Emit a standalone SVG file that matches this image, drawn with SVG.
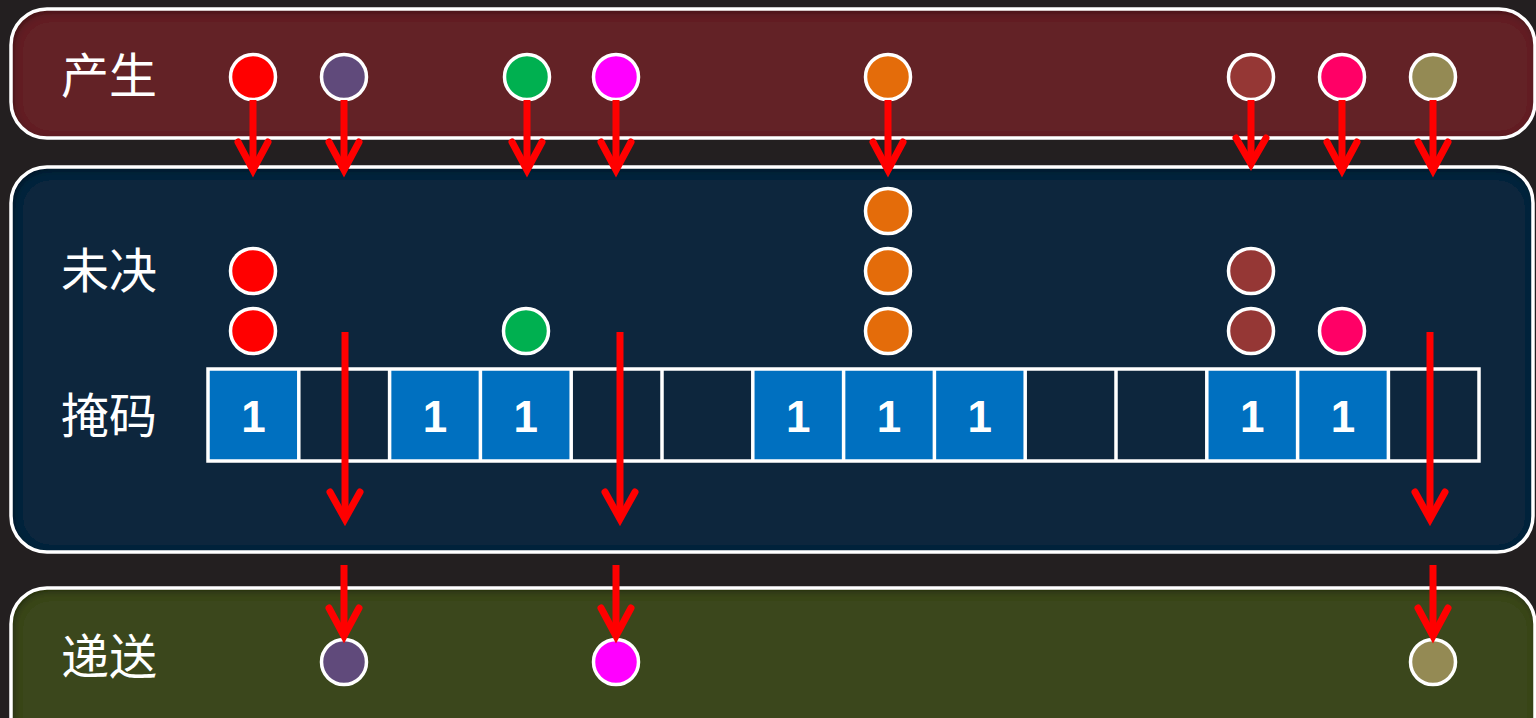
<svg xmlns="http://www.w3.org/2000/svg" width="1536" height="718" viewBox="0 0 1536 718">
<defs>
<style>
.lbl{font-family:"Noto Sans CJK SC","Noto Sans",sans-serif;font-size:48px;fill:#fff}
.one{font-family:"Liberation Sans",Arial,sans-serif;font-size:44px;font-weight:bold;fill:#fff;text-anchor:middle}
.dot{stroke:#fff;stroke-width:3.5}
.band{stroke:#fff;stroke-width:3.5;fill:none}
.arr{stroke:#f00;stroke-width:7;fill:none;stroke-linecap:round;stroke-linejoin:miter}
.shaft{stroke:#f00;stroke-width:7;fill:none}
.cell{fill:#0070C0}
.grid{stroke:#fff;stroke-width:3.5;fill:none}
</style>
<filter id="inner" x="-5%" y="-20%" width="110%" height="140%">
<feFlood flood-color="#000" flood-opacity="0.7"/>
<feComposite in2="SourceAlpha" operator="out"/>
<feGaussianBlur stdDeviation="4"/>
<feOffset dx="2" dy="3"/>
<feComposite in2="SourceAlpha" operator="in" result="sh"/>
<feMerge><feMergeNode in="SourceGraphic"/><feMergeNode in="sh"/></feMerge>
</filter>
</defs>
<rect width="1536" height="718" fill="#231F20"/>
<g id="band-produce">
<rect x="11" y="9" width="1524" height="129" rx="36" fill="#632425" filter="url(#inner)"/>
<rect x="11" y="9" width="1524" height="129" rx="36" class="band"/>
<text class="lbl" x="61" y="93">产生</text>
</g>
<g id="band-pending">
<rect x="11" y="167" width="1522" height="385" rx="36" fill="#11253E" filter="url(#inner)"/>
<rect x="11" y="167" width="1522" height="385" rx="36" class="band"/>
<text class="lbl" x="61" y="288">未决</text>
<text class="lbl" x="61" y="433">掩码</text>
</g>
<g id="band-deliver">
<rect x="11" y="588" width="1524" height="180" rx="36" fill="#3A471E" filter="url(#inner)"/>
<rect x="11" y="588" width="1524" height="180" rx="36" class="band"/>
<text class="lbl" x="61" y="674">递送</text>
</g>
<g id="mask">
<rect class="cell" x="208" y="369" width="90.8" height="92"/>
<rect class="cell" x="389.6" y="369" width="90.8" height="92"/>
<rect class="cell" x="480.4" y="369" width="90.8" height="92"/>
<rect class="cell" x="752.8" y="369" width="90.8" height="92"/>
<rect class="cell" x="843.6" y="369" width="90.8" height="92"/>
<rect class="cell" x="934.4" y="369" width="90.8" height="92"/>
<rect class="cell" x="1206.8" y="369" width="90.8" height="92"/>
<rect class="cell" x="1297.6" y="369" width="90.8" height="92"/>
<rect class="grid" x="208" y="369" width="1271" height="92"/>
<path class="grid" d="M298.8 369V461M389.6 369V461M480.4 369V461M571.2 369V461M662 369V461M752.8 369V461M843.6 369V461M934.4 369V461M1025.2 369V461M1116 369V461M1206.8 369V461M1297.6 369V461M1388.4 369V461"/>
<text class="one" x="253.4" y="432">1</text>
<text class="one" x="435" y="432">1</text>
<text class="one" x="525.8" y="432">1</text>
<text class="one" x="798.2" y="432">1</text>
<text class="one" x="889" y="432">1</text>
<text class="one" x="979.8" y="432">1</text>
<text class="one" x="1252.2" y="432">1</text>
<text class="one" x="1343" y="432">1</text>
</g>
<g id="produced">
<circle class="dot" cx="253" cy="77" r="22.5" fill="#FF0000"/>
<circle class="dot" cx="344" cy="77" r="22.5" fill="#604A7B"/>
<circle class="dot" cx="527" cy="77" r="22.5" fill="#00B050"/>
<circle class="dot" cx="616" cy="77" r="22.5" fill="#FF00FF"/>
<circle class="dot" cx="888" cy="77" r="22.5" fill="#E46C0A"/>
<circle class="dot" cx="1251" cy="77" r="22.5" fill="#953735"/>
<circle class="dot" cx="1342" cy="77" r="22.5" fill="#FF0066"/>
<circle class="dot" cx="1433" cy="77" r="22.5" fill="#948A54"/>
</g>
<g id="pending">
<circle class="dot" cx="253" cy="271" r="22.5" fill="#FF0000"/>
<circle class="dot" cx="253" cy="331" r="22.5" fill="#FF0000"/>
<circle class="dot" cx="526" cy="331" r="22.5" fill="#00B050"/>
<circle class="dot" cx="888" cy="211" r="22.5" fill="#E46C0A"/>
<circle class="dot" cx="888" cy="271" r="22.5" fill="#E46C0A"/>
<circle class="dot" cx="888" cy="331" r="22.5" fill="#E46C0A"/>
<circle class="dot" cx="1251" cy="271" r="22.5" fill="#953735"/>
<circle class="dot" cx="1251" cy="331" r="22.5" fill="#953735"/>
<circle class="dot" cx="1342" cy="331" r="22.5" fill="#FF0066"/>
</g>
<g id="delivered">
<circle class="dot" cx="344" cy="662" r="22.5" fill="#604A7B"/>
<circle class="dot" cx="616" cy="662" r="22.5" fill="#FF00FF"/>
<circle class="dot" cx="1433" cy="662" r="22.5" fill="#948A54"/>
</g>
<g id="connectors">
<path class="shaft" d="M253 100V168M344 100V168M527 100V168M616 100V168M888 100V168M1251 100V164M1342 100V168M1433 100V168"/>
<path class="arr" d="M238 142L253 170L268 142M329 142L344 170L359 142M512 142L527 170L542 142M601 142L616 170L631 142M873 142L888 170L903 142M1236 138L1251 164L1266 138M1327 142L1342 170L1357 142M1418 142L1433 170L1448 142"/>
<path class="shaft" d="M345 332V518M620 332V518M1430 332V518"/>
<path class="arr" d="M330 492L345 519L360 492M605 492L620 519L635 492M1415 492L1430 519L1445 492"/>
<path class="shaft" d="M344 565V636M616 565V636M1433 565V636"/>
<path class="arr" d="M329 608L344 636L359 608M601 608L616 636L631 608M1418 608L1433 636L1448 608"/>
</g>
</svg>
